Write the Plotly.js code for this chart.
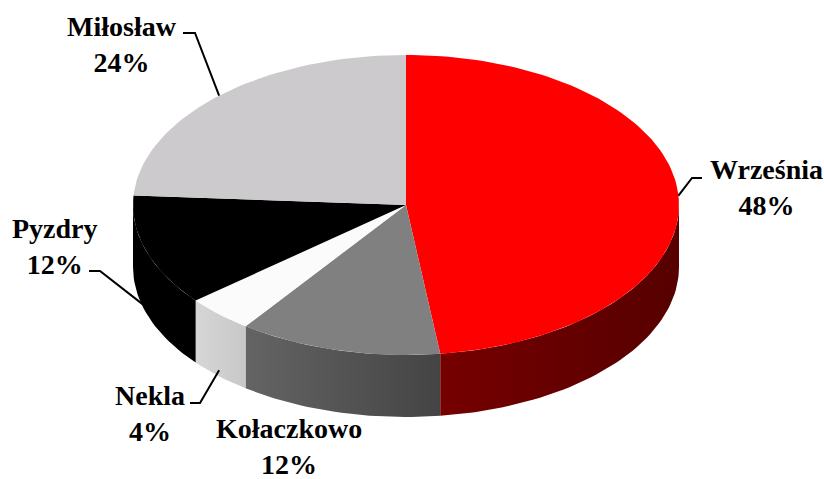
<!DOCTYPE html>
<html>
<head>
<meta charset="utf-8">
<script src="https://cdn.plot.ly/plotly-3.0.1.min.js"></script>
<style>
  html, body { margin: 0; padding: 0; background: #fff; }
  #vis { width: 824px; height: 479px; }
</style>
</head>
<body>
<div id="vis"></div>
<script>
// data
const labels = ['Września', 'Kołaczkowo', 'Nekla', 'Pyzdry', 'Miłosław'];
const values = [48, 12, 4, 12, 24];

// colours per slice: top face, side gradient (left -> right)
const topColors = ['#ff0000', '#808080', '#fbfbfb', '#000000', '#cccacc'];
const sideColors = [
  ['#760000', '#560000'],
  ['#646464', '#444444'],
  ['#d6d6d6', '#c8c8c8'],
  ['#000000', '#000000'],
  ['#aaaaaa', '#888888'],
];

// pie geometry (pixels, y grows downwards)
const cx = 406, cy = 205, rx = 273, ry = 150, depth = 62;

const total = values.reduce((a, b) => a + b, 0);
const rad = d => d * Math.PI / 180;

function pt(theta, dy) {
  // theta in degrees, clockwise from 12 o'clock
  return [cx + rx * Math.sin(rad(theta)), cy - ry * Math.cos(rad(theta)) + (dy || 0)];
}

function arc(t0, t1, dy) {
  const n = Math.max(2, Math.ceil(Math.abs(t1 - t0) / 1.5));
  const out = [];
  for (let i = 0; i <= n; i++) out.push(pt(t0 + (t1 - t0) * i / n, dy));
  return out;
}

// slice angle ranges
let acc = 0;
const slices = values.map((v, i) => {
  const a0 = acc / total * 360;
  acc += v;
  const a1 = acc / total * 360;
  return { i, a0, a1, mid: (a0 + a1) / 2 };
});

const traces = [];

// side walls (front half only: 90 .. 270 deg)
slices.forEach(s => {
  const t0 = Math.max(s.a0, 90), t1 = Math.min(s.a1, 270);
  if (t1 <= t0) return;
  const pts = arc(t0, t1, 0).concat(arc(t1, t0, depth));
  pts.push(pts[0]);
  traces.push({
    type: 'scatter', mode: 'lines',
    x: pts.map(p => p[0]), y: pts.map(p => p[1]),
    fill: 'toself',
    fillcolor: sideColors[s.i][0],
    fillgradient: { type: 'horizontal', colorscale: [[0, sideColors[s.i][0]], [1, sideColors[s.i][1]]] },
    line: { width: 0 },
    hoverinfo: 'skip', showlegend: false,
  });
});

// top faces
slices.forEach(s => {
  const pts = [[cx, cy]].concat(arc(s.a0, s.a1, 0));
  pts.push([cx, cy]);
  traces.push({
    type: 'scatter', mode: 'lines',
    x: pts.map(p => p[0]), y: pts.map(p => p[1]),
    fill: 'toself',
    fillcolor: topColors[s.i],
    line: { width: 0 },
    hoverinfo: 'skip', showlegend: false,
    name: labels[s.i],
  });
});

// label boxes and leader line elbows (layout only)
const labelPos = [
  { x: 766, y: 187, elbow: [692, 178], end: [702, 178] },
  { x: 289, y: 446, elbow: null },
  { x: 150, y: 413, elbow: [200, 403], end: [190, 403] },
  { x: 55,  y: 246, elbow: [100, 271], end: [89, 271] },
  { x: 122, y: 44,  elbow: [195, 33], end: [183, 33] },
];

const annotations = slices.map(s => ({
  x: labelPos[s.i].x, y: labelPos[s.i].y,
  xref: 'x', yref: 'y',
  text: '<b>' + labels[s.i] + '<br>' + Math.round(values[s.i] / total * 100) + '%</b>',
  showarrow: false,
  xanchor: 'center', yanchor: 'middle',
  font: { family: 'Liberation Serif', size: 28, color: '#000' },
}));

const shapes = [];
slices.forEach(s => {
  const lp = labelPos[s.i];
  if (!lp.elbow) return;
  const front = s.mid > 90 && s.mid < 270;
  const a = pt(s.mid, front ? depth * 0.9 : 0);
  shapes.push({
    type: 'path', xref: 'x', yref: 'y',
    path: `M${a[0]},${a[1]} L${lp.elbow[0]},${lp.elbow[1]} L${lp.end[0]},${lp.end[1]}`,
    line: { color: '#000', width: 2 },
  });
});

const layout = {
  width: 824, height: 479,
  margin: { l: 0, r: 0, t: 0, b: 0 },
  paper_bgcolor: '#fff', plot_bgcolor: '#fff',
  xaxis: { range: [0, 824], visible: false, fixedrange: true },
  yaxis: { range: [479, 0], visible: false, fixedrange: true },
  showlegend: false,
  annotations: annotations,
  shapes: shapes,
};

Plotly.newPlot('vis', traces, layout, { staticPlot: true });
</script>
</body>
</html>
